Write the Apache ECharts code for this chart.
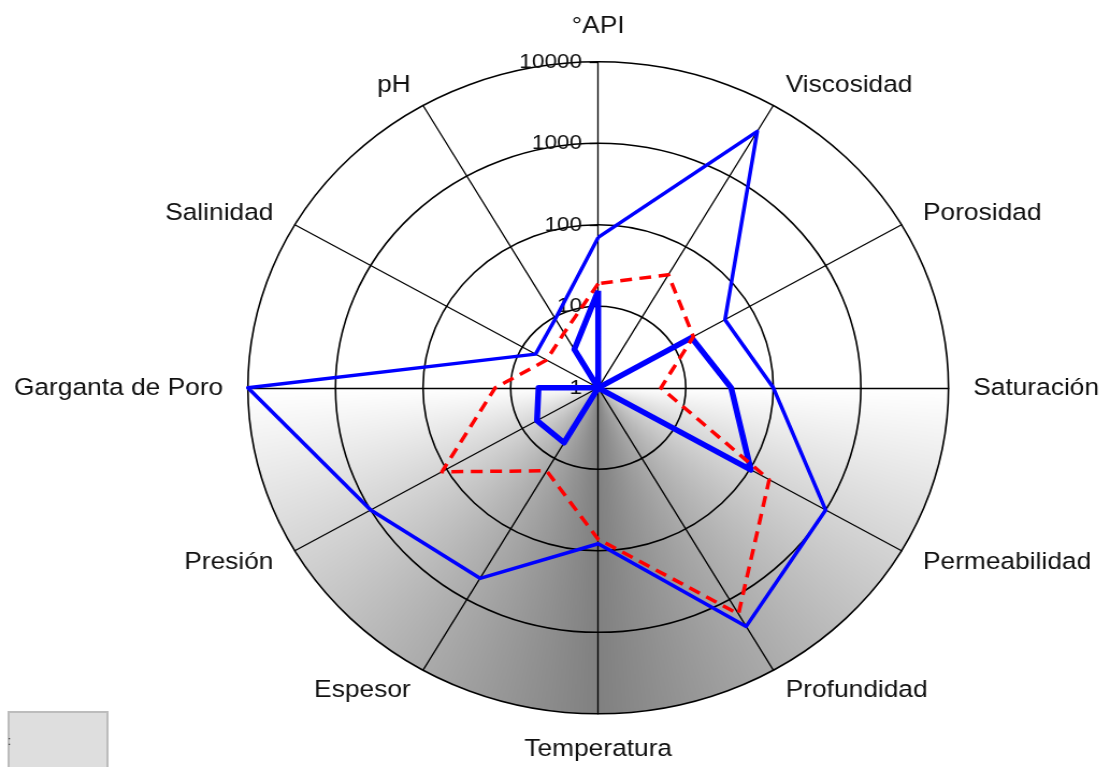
<!DOCTYPE html>
<html>
<head>
<meta charset="utf-8">
<title>Radar</title>
<script src="https://cdn.jsdelivr.net/npm/echarts@6/dist/echarts.min.js"></script>
<style>
  html, body { margin: 0; padding: 0; background: #fff; overflow: hidden; }
  /* the picture is a bit wider than tall, so the round chart is stretched */
  #chart { width: 1034px; height: 767px; transform: scaleX(1.0745); transform-origin: 0 0; }
</style>
</head>
<body>
<div id="chart"></div>
<script>
// axes in ECharts order (counterclockwise from the top)
const ejes = ['°API', 'pH', 'Salinidad', 'Garganta de Poro', 'Presión', 'Espesor',
  'Temperatura', 'Profundidad', 'Permeabilidad', 'Saturación', 'Porosidad', 'Viscosidad'];
const ticks = ['1', '10', '100', '1000', '10000'];

// values, same order as ejes
const azulFino = [70, 9.5, 6.7, 10000, 1000, 500, 82, 2400, 1000, 100, 47, 4300];
const azulGrueso = [15.5, 3.5, 1, 4.8, 6.4, 6, 1, 1, 103, 33, 17, 1];
const rojo = [19, 6, 4.8, 15, 115, 15, 72, 1600, 180, 5.2, 18, 40];

const fuente = '"Liberation Sans", Arial, sans-serif';
const W = 1034, H = 767, CX = 556.7, CY = 387.8, R = 326;

// gray shading of the lower half, darker toward the bottom axis
function fondo() {
  const c = document.createElement('canvas');
  c.width = W; c.height = H;
  const ctx = c.getContext('2d');
  const img = ctx.createImageData(W, H);
  for (let y = 0; y < H; y++) {
    for (let x = 0; x < W; x++) {
      const dx = x + 0.5 - CX, dy = y + 0.5 - CY;
      let g = 255;
      if (dy > 0) {
        const phi = Math.atan2(Math.abs(dx), dy) / (Math.PI / 2);
        g = Math.round(128 + 127 * phi);
      }
      const i = (y * W + x) * 4;
      img.data[i] = img.data[i + 1] = img.data[i + 2] = g;
      img.data[i + 3] = 255;
    }
  }
  ctx.putImageData(img, 0, 0);
  return c;
}

const log = arr => arr.map(v => Math.log10(v));

const chart = echarts.init(document.getElementById('chart'));
chart.setOption({
  animation: false,
  backgroundColor: '#fff',
  radar: {
    center: [CX, CY],
    radius: R,
    startAngle: 90,
    shape: 'circle',
    splitNumber: 4,
    nameGap: 23,
    axisName: { color: '#111', fontSize: 24.5, fontFamily: fuente },
    indicator: ejes.map((n, i) => {
      let ind = { name: n, min: 0, max: 4 };
      if (i === 0) {
        ind.axisLabel = {
          show: true, margin: 15, fontSize: 21, color: '#111', fontFamily: fuente,
          formatter: v => ticks[Math.round(v)]
        };
        ind.axisTick = { show: true, length: 8, lineStyle: { color: '#000', width: 1.3 } };
      }
      return ind;
    }),
    axisLine: { lineStyle: { color: '#000', width: 1.3 } },
    splitLine: { lineStyle: { color: '#000', width: 1.6 } },
    splitArea: { show: true, areaStyle: { color: { image: fondo(), repeat: 'no-repeat' } } },
    axisLabel: { show: false },
    axisTick: { show: false }
  },
  graphic: [
    {
      type: 'rect', left: 7, top: 711,
      shape: { width: 92, height: 62 },
      style: { fill: '#dedede', stroke: '#bcbcbc', lineWidth: 2 }
    },
    {
      type: 'text', left: 7, top: 736,
      style: { text: ':', fill: '#333', fontSize: 12, fontFamily: fuente }
    }
  ],
  series: [{
    type: 'radar',
    symbol: 'none',
    silent: true,
    data: [
      { name: 'Serie 1', value: log(azulFino), lineStyle: { color: '#0000ff', width: 3.5 } },
      { name: 'Serie 2', value: log(azulGrueso), lineStyle: { color: '#0000ff', width: 5.5 } },
      { name: 'Serie 3', value: log(rojo), lineStyle: { color: '#ff0000', width: 3.5, type: [11, 7] } }
    ]
  }]
});
</script>
</body>
</html>
